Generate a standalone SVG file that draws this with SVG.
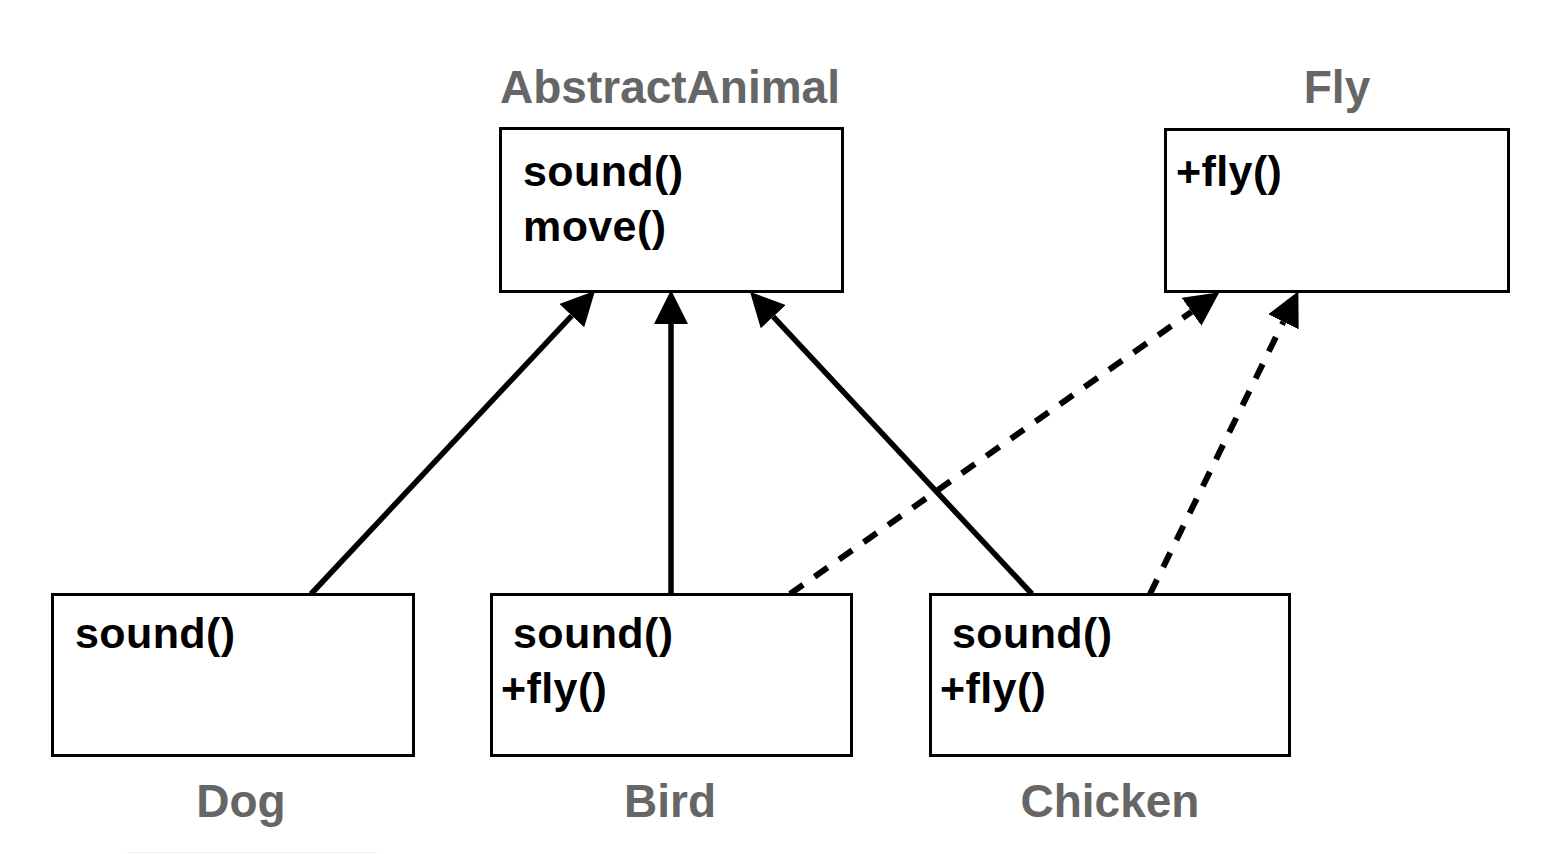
<svg xmlns="http://www.w3.org/2000/svg" width="1552" height="854" viewBox="0 0 1552 854">
<style>
.box{fill:#fff;stroke:#000;stroke-width:3}
.title{font-family:"Liberation Sans",Arial,Helvetica,sans-serif;font-weight:bold;font-size:46px;fill:#666;text-anchor:middle}
.member{font-family:"Liberation Sans",Arial,Helvetica,sans-serif;font-weight:bold;font-size:43px;letter-spacing:0.4px;fill:#000}
.solid{stroke:#000;stroke-width:5.5;fill:none}
.dashed{stroke:#000;stroke-width:6;fill:none;stroke-dasharray:16 14}
</style>
<defs>
<marker id="arrow" markerUnits="userSpaceOnUse" markerWidth="34" markerHeight="34" refX="0" refY="16" orient="auto" viewBox="0 0 32 32">
<path d="M0,0 L32,16 L0,32 Z" fill="#000"/>
</marker>
</defs>
<rect x="0" y="0" width="1552" height="854" fill="#fff"/>
<g id="connectors">
<line class="solid" x1="311" y1="594" x2="571.8" y2="315.6" marker-end="url(#arrow)"/>
<line class="solid" x1="671" y1="594" x2="671" y2="324" marker-end="url(#arrow)"/>
<line class="solid" x1="1032" y1="594" x2="773.2" y2="316.7" marker-end="url(#arrow)"/>
<line class="dashed" x1="790" y1="594" x2="1191.6" y2="311.8" marker-end="url(#arrow)"/>
<line class="dashed" x1="1150" y1="594" x2="1283.4" y2="321.8" marker-end="url(#arrow)"/>
</g>
<g id="AbstractAnimal">
<text class="title" x="670" y="103">AbstractAnimal</text>
<rect class="box" x="500.5" y="128.5" width="342" height="163"/>
<text class="member" x="523" y="186">sound()</text>
<text class="member" x="523" y="241">move()</text>
</g>
<g id="Fly">
<text class="title" x="1337" y="103">Fly</text>
<rect class="box" x="1165.5" y="129.5" width="343" height="162"/>
<text class="member" x="1176" y="186">+fly()</text>
</g>
<g id="Dog">
<rect class="box" x="52.5" y="594.5" width="361" height="161"/>
<text class="member" x="75" y="648">sound()</text>
<text class="title" x="241" y="817">Dog</text>
</g>
<g id="Bird">
<rect class="box" x="491.5" y="594.5" width="360" height="161"/>
<text class="member" x="513" y="648">sound()</text>
<text class="member" x="501" y="703">+fly()</text>
<text class="title" x="670" y="817">Bird</text>
</g>
<g id="Chicken">
<rect class="box" x="930.5" y="594.5" width="359" height="161"/>
<text class="member" x="952" y="648">sound()</text>
<text class="member" x="940" y="703">+fly()</text>
<text class="title" x="1110" y="817">Chicken</text>
</g>
<line x1="126" y1="852.5" x2="378" y2="852.5" stroke="#eeeeee" stroke-width="1"/>
</svg>
